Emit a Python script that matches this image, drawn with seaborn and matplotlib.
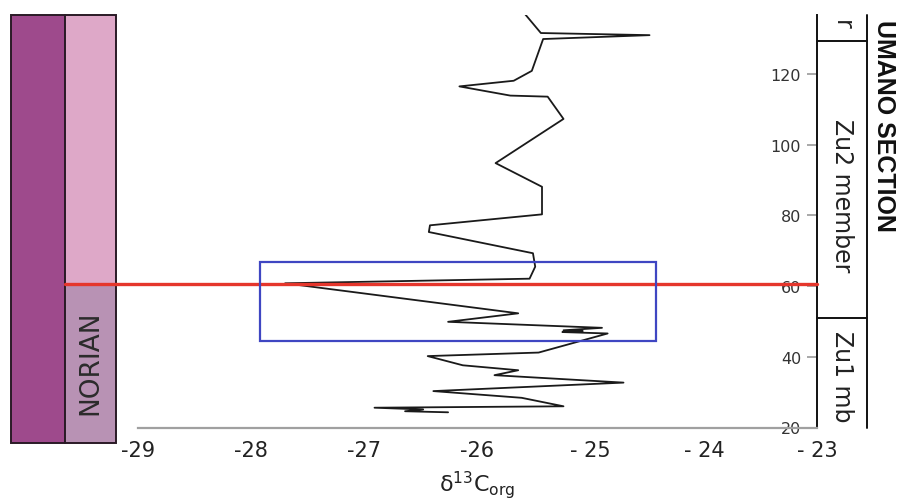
import numpy as np
import pandas as pd
import seaborn as sns
import matplotlib.pyplot as plt
from matplotlib.patches import Rectangle

height_m = [140.0, 131.6, 131.0, 129.9, 120.9, 118.1, 116.5, 113.9, 113.6, 107.3,
            94.8, 88.1, 80.3, 77.2, 75.3, 69.3, 65.5, 62.1, 60.8, 52.3,
            49.9, 48.2, 47.5, 47.3, 47.0, 46.6, 41.2, 40.2, 37.6, 36.2,
            34.8, 32.7, 30.3, 28.4, 26.0, 25.6, 25.1, 24.6, 24.3]
d13c_org = [-25.66, -25.44, -24.48, -25.42, -25.52, -25.68, -26.16, -25.71, -25.38, -25.24,
            -25.84, -25.43, -25.43, -26.42, -26.43, -25.51, -25.49, -25.54, -27.70, -25.64,
            -26.26, -24.90, -25.24, -25.07, -25.25, -24.85, -25.46, -26.44, -26.13, -25.64,
            -25.85, -24.71, -26.39, -25.61, -25.24, -26.91, -26.48, -26.64, -26.26]

x_ticks = [-29, -28, -27, -26, -25, -24, -23]
x_ticklabels = ["-29", "-28", "-27", "-26", "- 25", "- 24", "- 23"]
y_ticks = [20, 40, 60, 80, 100, 120]

boundary_m = 60.5            # red line
box_x = [-27.92, -24.42]     # blue frame
box_y = [44.6, 66.7]
member_limits = [129.3, 50.9]
members = [("r", 134.2), ("Zu2 member", 86.0), ("Zu1 mb", 34.7)]

df = pd.DataFrame({"height": height_m, "d13c": d13c_org})

sns.set_style("white")
plt.rcParams['font.family'] = ['DejaVu Sans']

fig = plt.figure(figsize=(9.05, 5.02), dpi=100)
ax = fig.add_axes([138 / 905, 1 - 428.5 / 502, 679 / 905, 412.5 / 502])

sns.lineplot(data=df, x="d13c", y="height", sort=False, estimator=None,
             color="#1a1a1a", lw=1.3, ax=ax)

ax.set_xlim(-29, -23)
ax.set_ylim(20, 136.7)

# spines / ticks
for s in ["top", "left"]:
    ax.spines[s].set_visible(False)
ax.spines["right"].set_color("#111111")
ax.spines["right"].set_linewidth(1.4)
ax.spines["bottom"].set_color("#a0a0a0")
ax.spines["bottom"].set_linewidth(1.6)

ax.set_xticks(x_ticks)
ax.set_xticklabels(x_ticklabels, fontsize=15, color="#222222")
ax.tick_params(axis="x", direction="in", length=5, width=1.3, color="#a0a0a0", pad=9)

ax.yaxis.tick_right()
ax.set_yticks(y_ticks)
ax.tick_params(axis="y", direction="in", length=7, width=1.2, color="#9a9a9a",
               pad=-11.5, labelsize=11.5, labelcolor="#333333")
for t in ax.yaxis.get_major_ticks():
    t.label2.set_horizontalalignment("right")

ax.set_xlabel("δ$^{13}$C$_{\\mathrm{org}}$", fontsize=16, color="#222222", labelpad=6)
ax.set_ylabel("")

# left chronostratigraphic columns
ax.add_patch(Rectangle((-30.122, 15.75), 0.477, 120.95, facecolor="#9e4a8c",
                       edgecolor="#2a1a26", lw=1.4, clip_on=False))
ax.add_patch(Rectangle((-29.645, boundary_m), 0.451, 136.7 - boundary_m, facecolor="#dea8c8",
                       edgecolor="#2a1a26", lw=1.4, clip_on=False))
ax.add_patch(Rectangle((-29.645, 15.75), 0.451, boundary_m - 15.75, facecolor="#b892b4",
                       edgecolor="#2a1a26", lw=1.4, clip_on=False))
ax.text(-29.42, 38.7, "NORIAN", rotation=90, fontsize=19, color="#2b2b2b",
        ha="center", va="center")

# right lithostratigraphic column
ax.plot([-22.558, -22.558], [20, 136.7], color="#111111", lw=1.4, clip_on=False)
for lim in member_limits:
    ax.plot([-23, -22.558], [lim, lim], color="#111111", lw=1.4, clip_on=False)
for name, yc in members:
    ax.text(-22.78, yc, name, rotation=270, fontsize=17, color="#222222",
            ha="center", va="center")
ax.text(-22.41, 105.5, "UMANO SECTION", rotation=270, fontsize=18, fontweight="bold",
        family="Liberation Sans", color="#111111", ha="center", va="center")

# boundary line and highlighted interval
ax.plot([-29.645, -23], [boundary_m, boundary_m], color="#e5362c", lw=2.4,
        clip_on=False, zorder=5)
ax.add_patch(Rectangle((box_x[0], box_y[0]), box_x[1] - box_x[0], box_y[1] - box_y[0],
                       fill=False, edgecolor="#3f46c2", lw=1.6, zorder=6))

fig.savefig("out.png", dpi=100)
